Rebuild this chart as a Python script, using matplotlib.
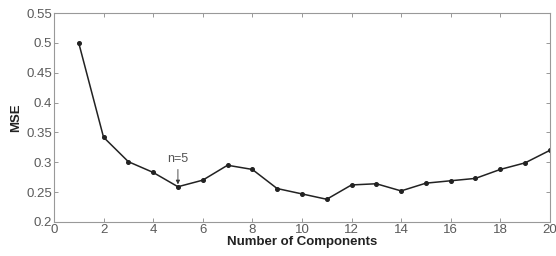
import numpy as np
import matplotlib.pyplot as plt

# MSE vs number of components
n_comp = list(range(1, 21))
mse = [0.500, 0.342, 0.301, 0.283, 0.259, 0.270, 0.295, 0.288, 0.256, 0.247,
       0.238, 0.262, 0.264, 0.252, 0.265, 0.269, 0.273, 0.288, 0.299, 0.320]

x_ticks = list(range(0, 21, 2))
y_ticks = [0.2, 0.25, 0.3, 0.35, 0.4, 0.45, 0.5, 0.55]
y_labels = ["0.2", "0.25", "0.3", "0.35", "0.4", "0.45", "0.5", "0.55"]

plt.rcParams['font.family'] = ['Liberation Sans', 'DejaVu Sans']

fig = plt.figure(figsize=(5.56, 2.56), dpi=100)
ax = fig.add_axes([0.097, 0.133, 0.892, 0.816])

ax.plot(n_comp, mse, color='#222222', lw=1.1, marker='o', ms=2.6,
        mfc='#222222', mec='#222222')

ax.set_xlim(0, 20)
ax.set_ylim(0.2, 0.55)
ax.set_xticks(x_ticks)
ax.set_yticks(y_ticks)
ax.set_yticklabels(y_labels)

# matlab-like box with inward ticks on all sides
ax.tick_params(direction='in', top=True, right=True, length=3, width=0.6,
               labelsize=9.5, labelcolor='#5a5a5a', color='#888888', pad=1.5)
for s in ax.spines.values():
    s.set_color('#999999')
    s.set_linewidth(0.8)

ax.set_xlabel("Number of Components", fontsize=9.5, fontweight='bold',
              color='#222222', labelpad=0)
ax.set_ylabel("MSE", fontsize=9.5, fontweight='bold', color='#222222', labelpad=3)

# annotation at the chosen number of components
ax.annotate("n=5", xy=(n_comp[4], mse[4] + 0.004), xytext=(n_comp[4], mse[4] + 0.036),
            ha='center', va='bottom', fontsize=9, color='#555555',
            arrowprops=dict(arrowstyle='-|>', color='#333333', lw=0.6,
                            mutation_scale=6, shrinkA=1, shrinkB=0))

fig.savefig("out.png", dpi=100)
